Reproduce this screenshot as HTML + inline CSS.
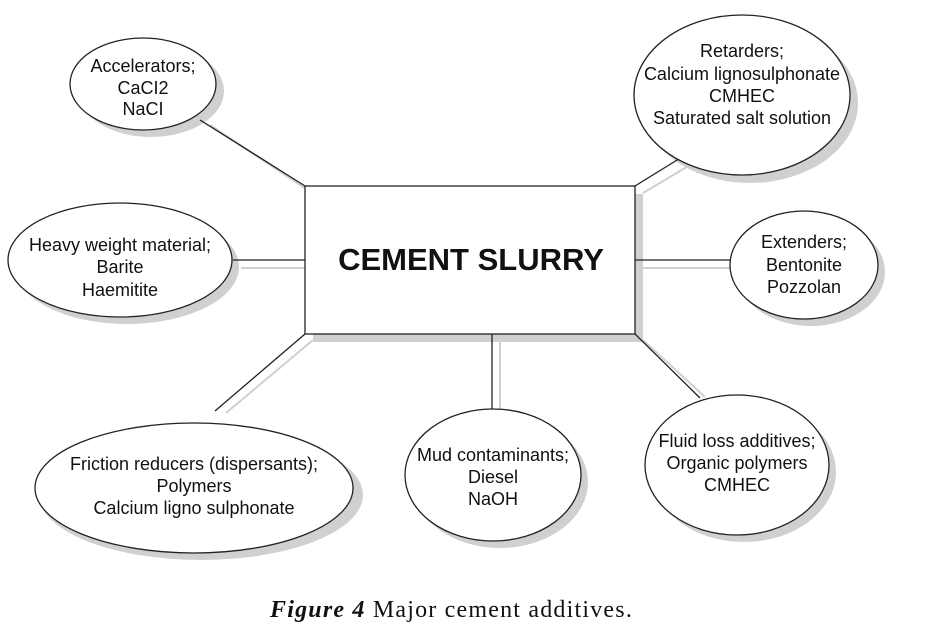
<!DOCTYPE html>
<html><head><meta charset="utf-8"><style>
html,body{margin:0;padding:0;background:#fff;width:933px;height:634px;overflow:hidden}
svg text{font-family:"Liberation Sans",sans-serif;font-size:18px;fill:#111}
</style></head><body>
<svg width="933" height="634" viewBox="0 0 933 634">
<g stroke="#d0d0d0" stroke-width="2" fill="none">
<line x1="210" y1="125" x2="312" y2="193"/>
<line x1="643" y1="193" x2="690" y2="165"/>
<line x1="241" y1="268" x2="305" y2="268"/>
<line x1="643" y1="268" x2="730" y2="268"/>
<line x1="313" y1="340" x2="226" y2="413"/>
<line x1="500" y1="340" x2="500" y2="410"/>
<line x1="643" y1="340" x2="705" y2="397"/>
</g>
<g fill="#d0d0d0">
<ellipse cx="151" cy="91" rx="73" ry="46"/>
<ellipse cx="750" cy="103" rx="108" ry="80"/>
<ellipse cx="127" cy="267" rx="112" ry="57"/>
<ellipse cx="811" cy="272" rx="74" ry="54"/>
<ellipse cx="201" cy="495" rx="162" ry="65"/>
<ellipse cx="500" cy="482" rx="88" ry="66"/>
<ellipse cx="744" cy="472" rx="92" ry="70"/>
<rect x="313" y="194" width="330" height="148"/>
</g>
<g stroke="#222" stroke-width="1.3" fill="none">
<line x1="200" y1="120" x2="305" y2="186"/>
<line x1="635" y1="186" x2="682" y2="157"/>
<line x1="233" y1="260" x2="305" y2="260"/>
<line x1="635" y1="260" x2="730" y2="260"/>
<line x1="305" y1="334" x2="215" y2="411"/>
<line x1="492" y1="334" x2="492" y2="410"/>
<line x1="635" y1="334" x2="700" y2="398"/>
</g>
<g fill="#fff" stroke="#222" stroke-width="1.3">
<ellipse cx="143" cy="84" rx="73" ry="46"/>
<ellipse cx="742" cy="95" rx="108" ry="80"/>
<ellipse cx="120" cy="260" rx="112" ry="57"/>
<ellipse cx="804" cy="265" rx="74" ry="54"/>
<ellipse cx="194" cy="488" rx="159" ry="65"/>
<ellipse cx="493" cy="475" rx="88" ry="66"/>
<ellipse cx="737" cy="465" rx="92" ry="70"/>
<rect x="305" y="186" width="330" height="148"/>
</g>
<g text-anchor="middle">
<text x="143" y="72">Accelerators;</text><text x="143" y="94">CaCI2</text><text x="143" y="115">NaCI</text>
<text x="742" y="57">Retarders;</text><text x="742" y="80">Calcium lignosulphonate</text><text x="742" y="102">CMHEC</text><text x="742" y="124">Saturated salt solution</text>
<text x="120" y="251">Heavy weight material;</text><text x="120" y="273">Barite</text><text x="120" y="296">Haemitite</text>
<text x="804" y="248">Extenders;</text><text x="804" y="271">Bentonite</text><text x="804" y="293">Pozzolan</text>
<text x="194" y="470">Friction reducers (dispersants);</text><text x="194" y="492">Polymers</text><text x="194" y="514">Calcium ligno sulphonate</text>
<text x="493" y="461">Mud contaminants;</text><text x="493" y="483">Diesel</text><text x="493" y="505">NaOH</text>
<text x="737" y="447">Fluid loss additives;</text><text x="737" y="469">Organic polymers</text><text x="737" y="491">CMHEC</text>
<text x="471" y="270" style="font-size:31px;font-weight:bold">CEMENT SLURRY</text>
</g>
<text x="270" y="617" style="font-family:'Liberation Serif',serif;font-size:24px;letter-spacing:1.2px"><tspan font-weight="bold" font-style="italic">Figure 4</tspan>  Major cement additives.</text>
</svg>
</body></html>
